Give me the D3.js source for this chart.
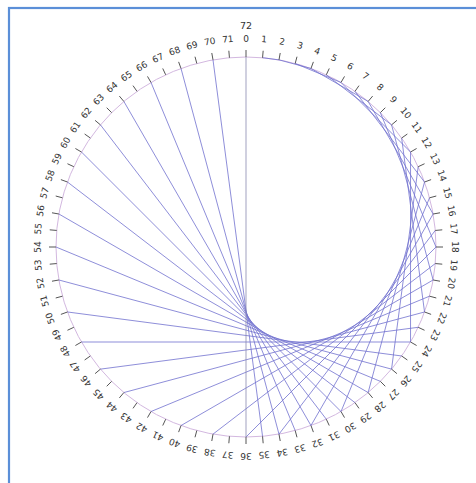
<!DOCTYPE html>
<html>
<head>
<meta charset="utf-8">
<script src="https://cdn.jsdelivr.net/npm/d3@7"></script>
<style>
html,body{margin:0;padding:0;background:#fff;}
svg{display:block;}
</style>
</head>
<body>
<svg id="chart" width="476" height="483"></svg>
<script>
// point labels around the circle (72 divisions)
const pointLabels = [0,1,2,3,4,5,6,7,8,9,10,11,12,13,14,15,16,17,18,19,20,21,22,23,24,25,26,27,28,29,30,31,32,33,34,35,36,37,38,39,40,41,42,43,44,45,46,47,48,49,50,51,52,53,54,55,56,57,58,59,60,61,62,63,64,65,66,67,68,69,70,71];
const extraLabel = 72;
// chords: source point -> target point (times-2 table, first half)
const chordSources = [0,1,2,3,4,5,6,7,8,9,10,11,12,13,14,15,16,17,18,19,20,21,22,23,24,25,26,27,28,29,30,31,32,33,34,35,36];
const chordTargets = [0,2,4,6,8,10,12,14,16,18,20,22,24,26,28,30,32,34,36,38,40,42,44,46,48,50,52,54,56,58,60,62,64,66,68,70,72];

const svg = d3.select("#chart");
const W = 476, H = 483;
const cx = 246, cy = 247, R = 190;

// frame
svg.append("rect").attr("x",9).attr("y",8).attr("width",W+20).attr("height",H+20)
  .attr("fill","none").attr("stroke","#5b8fd8").attr("stroke-width",2.2);

const angle = d3.scaleLinear().domain([0, 72]).range([0, 2*Math.PI]);
const px = (i, r) => cx + r*Math.sin(angle(i));
const py = (i, r) => cy - r*Math.cos(angle(i));

const g = svg.append("g");

// circle
g.append("circle").attr("cx",cx).attr("cy",cy).attr("r",R)
  .attr("fill","none").attr("stroke","#d3b8e0").attr("stroke-width",1);

// chords
const chords = chordSources.map((s,k)=>({s, t: chordTargets[k]}));
g.selectAll("line.chord").data(chords).enter().append("line")
  .attr("class","chord")
  .attr("x1", d=>px(d.s,R)).attr("y1", d=>py(d.s,R))
  .attr("x2", d=>px(d.t,R)).attr("y2", d=>py(d.t,R))
  .attr("stroke", d => d.s===36 ? "#8a8ab0" : "#7272d0")
  .attr("stroke-width", 1)
  .attr("stroke-opacity", 0.8);

// ticks
g.selectAll("line.tick").data(pointLabels).enter().append("line")
  .attr("class","tick")
  .attr("x1", d=>px(d,R)).attr("y1", d=>py(d,R))
  .attr("x2", d=>px(d,R+7)).attr("y2", d=>py(d,R+7))
  .attr("stroke","#555").attr("stroke-width",1);

// labels
g.selectAll("text.lbl").data(pointLabels).enter().append("text")
  .attr("class","lbl")
  .attr("transform", d=>`translate(${cx},${cy}) rotate(${angle(d)*180/Math.PI}) translate(0,${-(R+18)})`)
  .attr("text-anchor","middle")
  .attr("dominant-baseline","middle")
  .attr("font-family","DejaVu Sans, sans-serif")
  .attr("font-size",9)
  .attr("fill","#333")
  .text(d=>d);

g.append("text")
  .attr("x", px(0,R+31)).attr("y", py(0,R+31))
  .attr("text-anchor","middle").attr("dominant-baseline","middle")
  .attr("font-family","DejaVu Sans, sans-serif").attr("font-size",9.5)
  .attr("fill","#333").text(extraLabel);
</script>
</body>
</html>
